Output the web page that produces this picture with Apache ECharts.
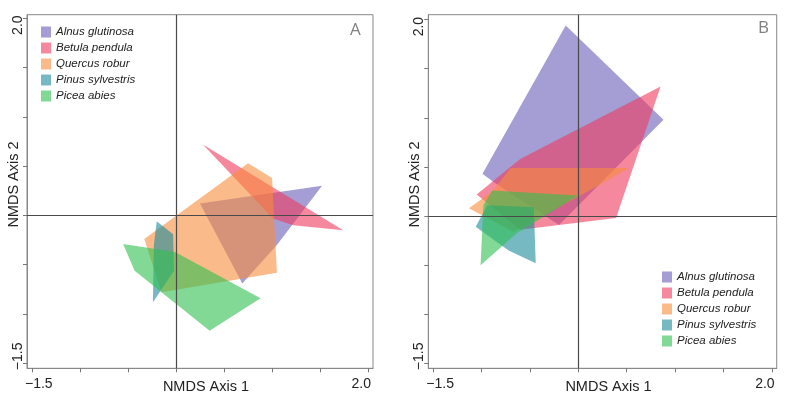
<!DOCTYPE html>
<html>
<head>
<meta charset="utf-8">
<script src="https://cdn.jsdelivr.net/npm/echarts@6/dist/echarts.min.js"></script>
<style>
  html, body { margin: 0; padding: 0; background: #fff; }
  #chart { width: 791px; height: 401px; }
</style>
</head>
<body>
<div id="chart"></div>
<script>
// ---- Data ----
const speciesNames = ['Alnus glutinosa', 'Betula pendula', 'Quercus robur', 'Pinus sylvestris', 'Picea abies'];
const tickValues = [-1.5, -1.0, -0.5, 0, 0.5, 1.0, 1.5, 2.0];
const tickLabelValues = [-1.5, 2.0];

// Panel A hulls (NMDS Axis 1, NMDS Axis 2)
const alnusA   = [[0.25, 0.12], [1.52, 0.30], [1.05, -0.30], [0.69, -0.69]];
const betulaA  = [[0.28, 0.72], [1.74, -0.15], [1.22, -0.10], [1.01, -0.03]];
const quercusA = [[0.75, 0.53], [1.00, 0.38], [1.05, -0.58], [-0.15, -0.78], [-0.33, -0.24]];
const pinusA   = [[-0.20, -0.06], [-0.03, -0.19], [-0.02, -0.56], [-0.17, -0.78], [-0.24, -0.88], [-0.23, -0.30]];
const piceaA   = [[-0.55, -0.29], [-0.01, -0.37], [0.88, -0.84], [0.35, -1.17], [-0.43, -0.56]];

// Panel B hulls
const alnusB   = [[-0.13, 1.94], [0.88, 0.98], [-0.20, -0.09], [-0.88, 0.35], [-0.99, 0.43]];
const betulaB  = [[-0.60, 0.58], [0.85, 1.32], [0.39, -0.02], [-0.60, -0.14], [-1.05, 0.22]];
const quercusB = [[-1.13, 0.08], [-0.89, 0.25], [-0.70, 0.49], [0.52, 0.49], [0.23, 0.32], [-0.67, -0.16]];
const pinusB   = [[-0.94, 0.11], [-0.46, 0.09], [-0.44, -0.48], [-0.72, -0.35], [-1.06, -0.11]];
const piceaB   = [[-0.89, 0.26], [0.00, 0.21], [-0.63, -0.17], [-1.01, -0.50], [-0.98, 0.11]];

// ---- Styles ----
const colors = ['rgba(90,79,176,0.55)', 'rgba(240,56,94,0.6)', 'rgba(248,140,60,0.6)', 'rgba(26,138,154,0.6)', 'rgba(46,191,80,0.6)'];
const FONT = 'Liberation Sans, Arial, sans-serif';

function polySeries(name, pts, color, idx, extra) {
  return Object.assign({
    type: 'custom',
    name: name,
    coordinateSystem: 'cartesian2d',
    xAxisIndex: idx,
    yAxisIndex: idx,
    silent: true,
    itemStyle: { color: color },
    data: pts,
    renderItem: function (params, api) {
      if (params.dataIndex !== 0) return;
      const points = pts.map(function (p) { return api.coord(p); });
      return { type: 'polygon', shape: { points: points }, style: { fill: color } };
    }
  }, extra || {});
}

const zeroLines = {
  markLine: {
    silent: true,
    symbol: 'none',
    label: { show: false },
    lineStyle: { color: '#4a4a4a', type: 'solid', width: 1.2 },
    data: [{ xAxis: 0 }, { yAxis: 0 }]
  }
};

function fmt(v) {
  const s = v.toFixed(1).replace('-', '\u2212');
  return v < 0 ? '{lo|' + s + '}' : '{hi|' + s + '}';
}

function makeX(idx) {
  return {
    gridIndex: idx, type: 'value', min: -1.55, max: 2.05,
    splitLine: { show: false },
    axisLine: { show: true, onZero: false, lineStyle: { color: '#888', width: 1 } },
    axisTick: { show: true, inside: false, length: 4, customValues: tickValues, lineStyle: { color: '#777' } },
    axisLabel: {
      customValues: tickLabelValues, margin: 9, formatter: fmt,
      rich: {
        lo: { padding: [0, 0, 0, 14], fontSize: 14, color: '#222', fontFamily: FONT },
        hi: { padding: [0, 14, 0, 0], fontSize: 14, color: '#222', fontFamily: FONT }
      }
    },
    name: 'NMDS Axis 1', nameLocation: 'middle', nameGap: 11, nameMoveOverlap: false,
    nameTextStyle: { fontSize: 14.5, color: '#222', fontFamily: FONT, padding: [0, 0, 0, 12] }
  };
}
function makeY(idx, max) {
  return {
    gridIndex: idx, type: 'value', min: -1.55, max: max,
    splitLine: { show: false },
    axisLine: { show: true, onZero: false, lineStyle: { color: '#888', width: 1 } },
    axisTick: { show: true, inside: false, length: 4, customValues: tickValues, lineStyle: { color: '#777' } },
    axisLabel: {
      customValues: tickLabelValues, margin: 2, rotate: 90, formatter: fmt,
      rich: {
        lo: { padding: [0, 0, 0, 14], fontSize: 14, color: '#222', fontFamily: FONT },
        hi: { padding: [0, 14, 0, 0], fontSize: 14, color: '#222', fontFamily: FONT }
      }
    },
    name: 'NMDS Axis 2', nameLocation: 'middle', nameGap: 6, nameMoveOverlap: false,
    nameTextStyle: { fontSize: 14.5, color: '#222', fontFamily: FONT, padding: [0, 0, 0, 14] }
  };
}

function makeLegend(left, top) {
  return {
    data: speciesNames, left: left, top: top, orient: 'vertical', icon: 'rect',
    itemWidth: 10, itemHeight: 11, itemGap: 4, selectedMode: false, padding: 0,
    textStyle: { fontStyle: 'italic', fontSize: 11.5, color: '#222', fontFamily: FONT, lineHeight: 11 }
  };
}

const chart = echarts.init(document.getElementById('chart'), null, { renderer: 'canvas' });
chart.setOption({
  animation: false,
  backgroundColor: '#fff',
  title: [
    { text: 'A', left: 350, top: 22, padding: 0, textStyle: { fontSize: 17, fontWeight: 'normal', color: '#808080', fontFamily: 'Open Sans, sans-serif' } },
    { text: 'B', left: 758, top: 20, padding: 0, textStyle: { fontSize: 17, fontWeight: 'normal', color: '#808080', fontFamily: 'Open Sans, sans-serif' } }
  ],
  legend: [makeLegend(41, 26), makeLegend(662, 271)],
  grid: [
    { left: 27, top: 14.7, width: 346, height: 353.6, show: true, borderColor: '#888', borderWidth: 1, backgroundColor: 'transparent', containLabel: false, outerBoundsMode: 'none' },
    { left: 428.3, top: 14.7, width: 348.4, height: 353.6, show: true, borderColor: '#888', borderWidth: 1, backgroundColor: 'transparent', containLabel: false, outerBoundsMode: 'none' }
  ],
  xAxis: [makeX(0), makeX(1)],
  yAxis: [makeY(0, 2.035), makeY(1, 2.05)],
  series: [
    polySeries(speciesNames[0], alnusA, colors[0], 0, zeroLines),
    polySeries(speciesNames[1], betulaA, colors[1], 0),
    polySeries(speciesNames[2], quercusA, colors[2], 0),
    polySeries(speciesNames[3], pinusA, colors[3], 0),
    polySeries(speciesNames[4], piceaA, colors[4], 0),
    polySeries(speciesNames[0], alnusB, colors[0], 1, zeroLines),
    polySeries(speciesNames[1], betulaB, colors[1], 1),
    polySeries(speciesNames[2], quercusB, colors[2], 1),
    polySeries(speciesNames[3], pinusB, colors[3], 1),
    polySeries(speciesNames[4], piceaB, colors[4], 1)
  ]
});
</script>
</body>
</html>
